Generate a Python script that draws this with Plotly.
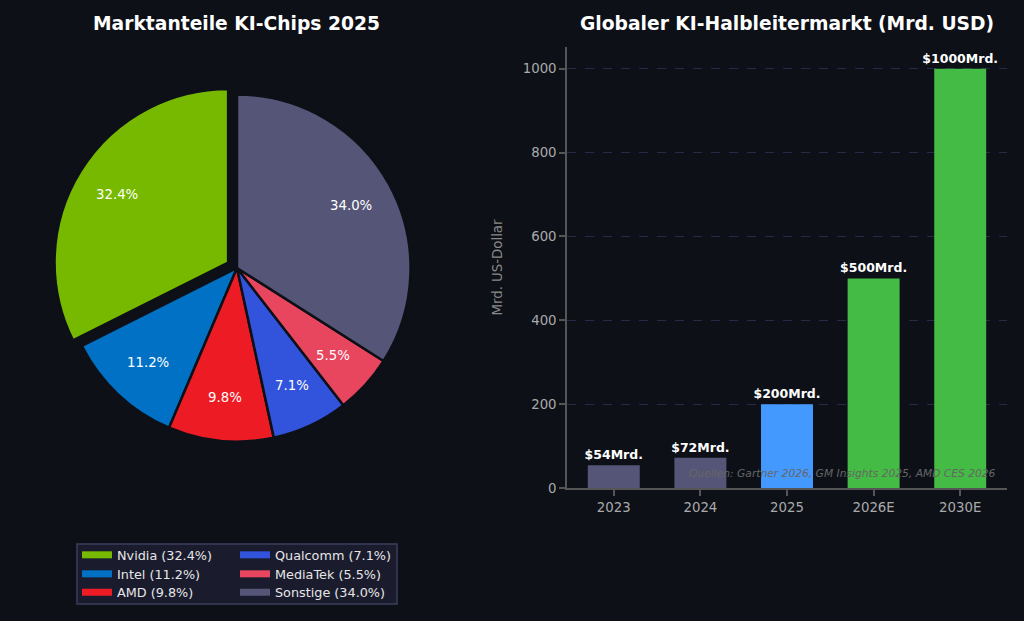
import math
import plotly.graph_objects as go

# ---- data ----
chip_vendors = ["Nvidia", "Intel", "AMD", "Qualcomm", "MediaTek", "Sonstige"]
chip_shares = [32.4, 11.2, 9.8, 7.1, 5.5, 34.0]
chip_colors = ["#76b900", "#0071c5", "#ed1c24", "#3253dc", "#e8465f", "#555577"]
chip_pull = [0.06, 0, 0, 0, 0, 0]

market_years = ["2023", "2024", "2025", "2026E", "2030E"]
market_values = [54, 72, 200, 500, 1000]
market_colors = ["#555577", "#555577", "#4499ff", "#44bb44", "#44bb44"]

BG = "#0d1017"
FONT = "DejaVu Sans"

W, H = 1024, 621
def px_x(p):
    return p / W
def px_y(p):
    return 1 - p / H

# pie placement (pixels)
PIE_L, PIE_R, PIE_T, PIE_B = 53, 421, 84, 452
PCT_DIST = 0.75

fig = go.Figure()

# Pie: first slice starts at 12 o'clock, counterclockwise (matplotlib startangle=90)
total = sum(chip_shares)
start_rot = -360 * chip_shares[0] / total
fig.add_trace(go.Pie(
    labels=chip_vendors,
    values=chip_shares,
    sort=False,
    direction="counterclockwise",
    rotation=start_rot,
    pull=chip_pull,
    marker=dict(colors=chip_colors, line=dict(color=BG, width=2.5)),
    textinfo="none",
    showlegend=False,
    hoverinfo="label+percent",
    domain=dict(x=[px_x(PIE_L), px_x(PIE_R)], y=[px_y(PIE_B), px_y(PIE_T)]),
))

# percentage labels at PCT_DIST of radius (matplotlib style)
cx = (PIE_L + PIE_R) / 2
cy = (PIE_T + PIE_B) / 2
radius = min(PIE_R - PIE_L, PIE_B - PIE_T) / 2 / (1 + max(chip_pull))
pct_annotations = []
cum = 0.0
for v, p in zip(chip_shares, chip_pull):
    a0 = 90 + cum / total * 360
    a1 = a0 + v / total * 360
    cum += v
    mid = math.radians((a0 + a1) / 2)
    rr = radius * (PCT_DIST + p)
    pct_annotations.append(dict(
        text=f"{v / total * 100:.1f}%",
        x=px_x(cx + rr * math.cos(mid)), y=px_y(cy - rr * math.sin(mid)),
        xref="paper", yref="paper", showarrow=False,
        font=dict(color="white", size=13.3, family=FONT),
        xanchor="center", yanchor="middle",
    ))

# Bars
fig.add_trace(go.Bar(
    x=market_years,
    y=market_values,
    marker=dict(color=market_colors, line=dict(width=0)),
    width=0.6,
    text=[f"${v}Mrd." for v in market_values],
    textposition="outside",
    constraintext="none",
    cliponaxis=False,
    textfont=dict(color="white", size=12.5, family=FONT, weight="bold"),
    showlegend=False,
    xaxis="x", yaxis="y",
))

# Legend entries (two columns, each entry its own legend for exact placement)
legend_cols_px = [77, 77, 77, 235, 235, 235]
legend_rows_px = [555, 574, 592.5, 555, 574, 592.5]
legend_layout = {}
for i, (name, val, col) in enumerate(zip(chip_vendors, chip_shares, chip_colors)):
    key = "legend" if i == 0 else f"legend{i + 1}"
    fig.add_trace(go.Scatter(
        x=[None], y=[None],
        mode="lines",
        name=f"{name} ({val:.1f}%)",
        line=dict(color=col, width=7),
        xaxis="x2", yaxis="y2",
        legend=key,
        showlegend=True,
    ))
    legend_layout[key] = dict(
        x=px_x(legend_cols_px[i]), y=px_y(legend_rows_px[i]),
        xanchor="left", yanchor="middle",
        bgcolor="rgba(0,0,0,0)",
        font=dict(color="#e6e6e6", size=12.8, family=FONT),
        itemwidth=30,
    )

fig.update_layout(
    width=W, height=H,
    paper_bgcolor=BG, plot_bgcolor=BG,
    margin=dict(l=0, r=0, t=0, b=0, autoexpand=False),
    font=dict(family=FONT, color="#aaaaaa"),
    barmode="overlay",
    xaxis=dict(
        domain=[px_x(567), px_x(1007)],
        anchor="y",
        type="category",
        categoryorder="array", categoryarray=market_years,
        range=[-0.54, 4.54],
        showline=True, linecolor="#555555", linewidth=1.5,
        ticks="outside", tickcolor="#555555", ticklen=6, tickwidth=1.5,
        tickfont=dict(color="#aaaaaa", size=13.3, family=FONT),
        showgrid=False, zeroline=False,
    ),
    yaxis=dict(
        domain=[px_y(488), px_y(47)],
        anchor="x",
        range=[0, 1052],
        tickvals=[0, 200, 400, 600, 800, 1000],
        showline=True, linecolor="#555555", linewidth=1.5,
        ticks="outside", tickcolor="#555555", ticklen=6, tickwidth=1.5,
        tickfont=dict(color="#aaaaaa", size=13.3, family=FONT),
        showgrid=True, gridcolor="#262b45", griddash="dash", gridwidth=1,
        zeroline=False,
        title=dict(text="Mrd. US-Dollar", font=dict(color="#888888", size=13.3, family=FONT), standoff=17),
    ),
    xaxis2=dict(domain=[0, 0.01], anchor="y2", visible=False),
    yaxis2=dict(domain=[0, 0.01], anchor="x2", visible=False),
    shapes=[dict(
        type="rect", xref="paper", yref="paper",
        x0=px_x(77), x1=px_x(397), y0=px_y(604), y1=px_y(544),
        fillcolor="#1a1c2e", line=dict(color="#3a3e5e", width=1.5),
        layer="below",
    )],
    annotations=[
        dict(text="<b>Marktanteile KI-Chips 2025</b>", x=px_x(236), y=px_y(24),
             xref="paper", yref="paper", showarrow=False,
             font=dict(color="white", size=18.7, family=FONT), xanchor="center", yanchor="middle"),
        dict(text="<b>Globaler KI-Halbleitermarkt (Mrd. USD)</b>", x=px_x(787), y=px_y(24),
             xref="paper", yref="paper", showarrow=False,
             font=dict(color="white", size=18.7, family=FONT), xanchor="center", yanchor="middle"),
        dict(text="<i>Quellen: Gartner 2026, GM Insights 2025, AMD CES 2026</i>", x=px_x(998), y=px_y(473),
             xref="paper", yref="paper", showarrow=False,
             font=dict(color="#666666", size=10.7, family=FONT), xanchor="right", yanchor="middle"),
    ] + pct_annotations,
    **legend_layout,
)

fig.write_html("out.html")
